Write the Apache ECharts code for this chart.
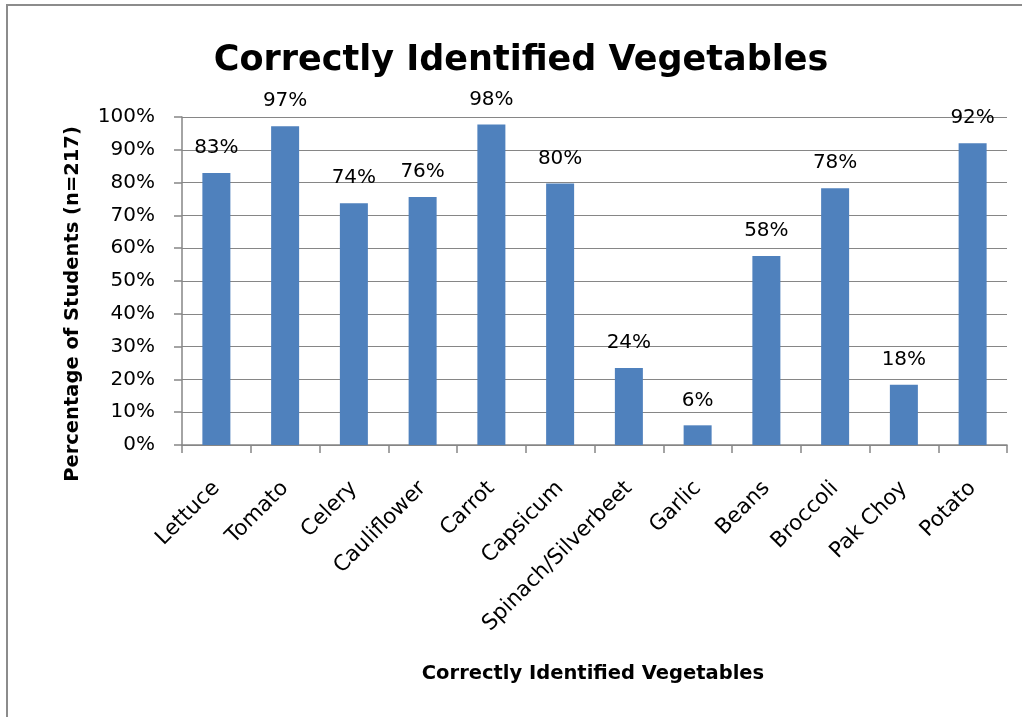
<!DOCTYPE html>
<html>
<head>
<meta charset="utf-8">
<script src="https://cdn.jsdelivr.net/npm/echarts@6/dist/echarts.min.js"></script>
<style>
html,body{margin:0;padding:0;background:#fff;}
#chart{width:1022px;height:717px;}
</style>
</head>
<body>
<div id="chart"></div>
<script>
const categories = ['Lettuce','Tomato','Celery','Cauliflower','Carrot','Capsicum','Spinach/Silverbeet','Garlic','Beans','Broccoli','Pak Choy','Potato'];
const values = [82.9, 97.2, 73.7, 75.6, 97.7, 79.7, 23.5, 6.0, 57.6, 78.3, 18.4, 92.0];
const yTicks = [0,10,20,30,40,50,60,70,80,90,100];
const chartTitle = 'Correctly Identified Vegetables';
const xTitle = 'Correctly Identified Vegetables';
const yTitle = 'Percentage of Students (n=217)';

const FONT = 'DejaVu Sans';
const chart = echarts.init(document.getElementById('chart'));
chart.setOption({
  animation: false,
  backgroundColor: '#ffffff',
  grid: {left: 182, right: 15, top: 117, bottom: 272, containLabel: false, outerBoundsMode: 'none'},
  graphic: [
    {type: 'rect', shape: {x: 7, y: 5, width: 1300, height: 900}, style: {fill: 'none', stroke: '#8c8c8c', lineWidth: 2}, silent: true},
    {type: 'text', x: 521, y: 61, style: {text: chartTitle, font: 'bold 35px "DejaVu Sans"', fill: '#000', textAlign: 'center', textVerticalAlign: 'middle'}},
    {type: 'text', x: 593, y: 674, style: {text: xTitle, font: 'bold 19.5px "DejaVu Sans"', fill: '#000', textAlign: 'center', textVerticalAlign: 'middle'}},
    {type: 'text', x: 73, y: 304, rotation: Math.PI / 2, style: {text: yTitle, font: 'bold 19.5px "DejaVu Sans"', fill: '#000', textAlign: 'center', textVerticalAlign: 'middle'}}
  ],
  xAxis: {
    type: 'category',
    data: categories,
    axisLine: {show: true, lineStyle: {color: '#868686', width: 1.5}},
    axisTick: {show: true, length: 8, alignWithLabel: false, lineStyle: {color: '#868686', width: 1.5}},
    axisLabel: {rotate: 45, margin: 40, fontFamily: FONT, fontSize: 21.5, color: '#000', interval: 0},
    splitLine: {show: false}
  },
  yAxis: {
    type: 'value',
    min: yTicks[0],
    max: yTicks[yTicks.length - 1],
    interval: 10,
    axisLine: {show: true, lineStyle: {color: '#868686', width: 1.5}},
    axisTick: {show: true, length: 8, lineStyle: {color: '#868686', width: 1.5}},
    axisLabel: {margin: 27, fontFamily: FONT, fontSize: 20, color: '#000', formatter: v => v + '%'},
    splitLine: {show: true, lineStyle: {color: '#868686', width: 1.2}}
  },
  series: [{
    type: 'bar',
    data: values,
    barWidth: 28,
    itemStyle: {color: '#4F81BD'},
    label: {show: true, position: 'top', distance: 15, fontFamily: FONT, fontSize: 20, color: '#000', formatter: p => Math.round(p.value) + '%'}
  }]
});
</script>
</body>
</html>
